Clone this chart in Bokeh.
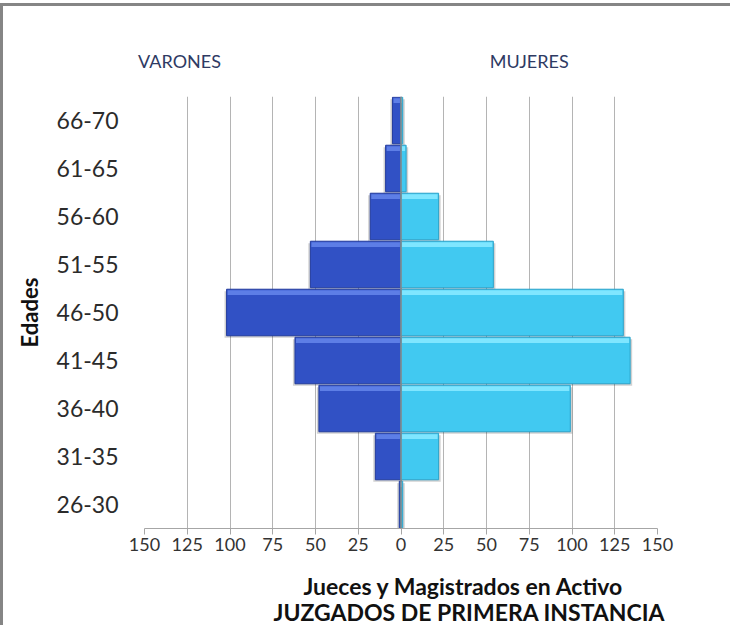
from bokeh.plotting import figure
from bokeh.models import Range1d, FixedTicker, Span, LinearAxis
from bokeh.embed import file_html
from bokeh.resources import INLINE

# ---- data ----
edades = ["26-30", "31-35", "36-40", "41-45", "46-50", "51-55", "56-60", "61-65", "66-70"]
varones = [1, 15, 48, 62, 102, 53, 18, 9, 5]
mujeres = [1, 22, 99, 134, 130, 54, 22, 3, 1]
x_ticks = [-150, -125, -100, -75, -50, -25, 0, 25, 50, 75, 100, 125, 150]
x_tick_labels = ["150", "125", "100", "75", "50", "25", "0", "25", "50", "75", "100", "125", "150"]
series_names = ["VARONES", "MUJERES"]
series_name_pos = [-129.5, 75]
y_title = "Edades"
x_title_1 = "Jueces y Magistrados   en Activo"
x_title_2 = "JUZGADOS DE PRIMERA INSTANCIA"
x_title_pos = 40

FONT = "Lato"
ypos = [i + 0.5 for i in range(len(edades))]
BAR_H = 0.97

p = figure(width=730, height=622, output_backend="svg", toolbar_location=None,
           x_range=Range1d(-150, 150), y_range=Range1d(0, 9),
           min_border_left=141, min_border_right=76, min_border_top=90, min_border_bottom=99)
p.outline_line_color = None
p.background_fill_color = "white"
p.border_fill_color = "white"
p.styles = {"border-top": "3px solid #858585", "border-left": "3px solid #858585",
            "margin-top": "3px", "margin-bottom": "-6px"}

# grid
p.ygrid.visible = False
p.xgrid.ticker = FixedTicker(ticks=x_ticks)
p.xgrid.grid_line_color = "#b4b4b4"
p.xgrid.grid_line_width = 1

# x axis
p.xaxis.ticker = FixedTicker(ticks=x_ticks)
p.xaxis.major_label_overrides = {t: l for t, l in zip(x_ticks, x_tick_labels)}
p.xaxis.axis_line_color = "#a6a6a6"
p.xaxis.major_tick_line_color = "#a6a6a6"
p.xaxis.major_tick_in = 0
p.xaxis.major_tick_out = 6
p.xaxis.minor_tick_line_color = None
p.xaxis.major_label_text_font = FONT
p.xaxis.major_label_text_font_size = "18px"
p.xaxis.major_label_text_color = "#333333"
p.xaxis.major_label_standoff = 3

# y axis
p.yaxis.ticker = FixedTicker(ticks=ypos)
p.yaxis.major_label_overrides = {y: e for y, e in zip(ypos, edades)}
p.yaxis.axis_line_color = None
p.yaxis.major_tick_line_color = None
p.yaxis.minor_tick_line_color = None
p.yaxis.major_label_text_font = FONT
p.yaxis.major_label_text_font_size = "23px"
p.yaxis.major_label_text_color = "#2b2b2b"
p.yaxis.major_label_standoff = 20
p.yaxis.axis_label = y_title
p.yaxis.axis_label_text_font = FONT
p.yaxis.axis_label_text_font_size = "22px"
p.yaxis.axis_label_text_font_style = "bold"
p.yaxis.axis_label_text_color = "#111111"
p.yaxis.axis_label_standoff = 11


def text_axis(ticks, labels, size, bold, color, standoff):
    ax = LinearAxis(ticker=FixedTicker(ticks=ticks),
                    major_label_overrides={t: l for t, l in zip(ticks, labels)})
    ax.axis_line_color = None
    ax.major_tick_line_color = None
    ax.minor_tick_line_color = None
    ax.major_label_text_font = FONT
    ax.major_label_text_font_size = size
    ax.major_label_text_font_style = "bold" if bold else "normal"
    ax.major_label_text_color = color
    ax.major_label_standoff = standoff
    return ax


# series names above the plot
p.add_layout(text_axis(series_name_pos, series_names, "18px", False, "#2E3A63", 19), "above")
# two-line title below the plot
p.add_layout(text_axis([x_title_pos], [x_title_1], "23px", True, "#111111", 12), "below")
p.add_layout(text_axis([x_title_pos], [x_title_2], "23px", True, "#111111", -11), "below")

# shadows
p.hbar(y=[y - 0.04 for y in ypos], left=[-v - 1.2 for v in varones], right=0, height=BAR_H,
       fill_color="#000000", fill_alpha=0.18, line_color=None)
p.hbar(y=[y - 0.04 for y in ypos], left=0, right=[v + 1.2 for v in mujeres], height=BAR_H,
       fill_color="#000000", fill_alpha=0.18, line_color=None)

# bars
p.hbar(y=ypos, left=[-v for v in varones], right=0, height=BAR_H,
       fill_color="#3151C5", line_color="#233C9E", line_width=1)
p.hbar(y=ypos, left=0, right=mujeres, height=BAR_H,
       fill_color="#41C9F1", line_color="#2BA3CA", line_width=1)

# bevel highlights (top strip)
p.hbar(y=[y + BAR_H / 2 - 0.07 for y in ypos], left=[-v + 0.6 for v in varones],
       right=[-0.6 if v > 1.5 else 0 for v in varones], height=0.1,
       fill_color="#5D7EE6", line_color=None)
p.hbar(y=[y + BAR_H / 2 - 0.07 for y in ypos], left=[0.6 if v > 1.5 else 0 for v in mujeres],
       right=[v - 0.6 for v in mujeres], height=0.1,
       fill_color="#7FE6FF", line_color=None)

# zero line
p.add_layout(Span(location=0, dimension="height", line_color="#8a8a8a", line_width=1.5))

open("out.html", "w").write(file_html(p, INLINE))
